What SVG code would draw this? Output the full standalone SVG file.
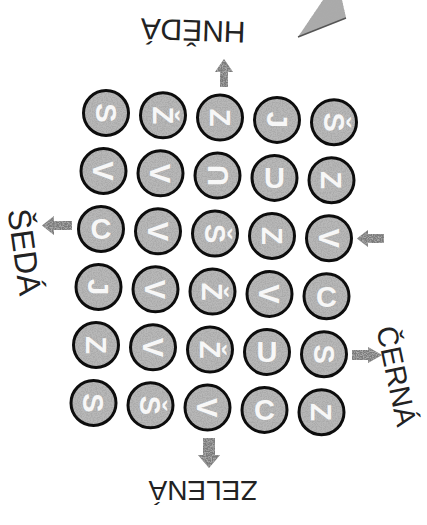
<svg xmlns="http://www.w3.org/2000/svg" width="427" height="525" viewBox="0 0 427 525">
<defs>
<filter id="grain" x="-10%" y="-10%" width="120%" height="120%">
<feTurbulence type="fractalNoise" baseFrequency="0.8" numOctaves="2" seed="5" result="noise"/>
<feColorMatrix in="noise" type="matrix" values="0 0 0 0 0.4  0 0 0 0 0.4  0 0 0 0 0.4  3.5 0 0 0 -1.4" result="dark"/>
<feComposite in="dark" in2="SourceGraphic" operator="in" result="spots"/>
<feMerge><feMergeNode in="SourceGraphic"/><feMergeNode in="spots"/></feMerge>
</filter>
</defs>
<style>
.disc{fill:#b8b8b8;filter:url(#grain)}
.ring{fill:none;stroke:#0d0d0d;stroke-width:3}
.let{font-family:"Liberation Sans",Arial,sans-serif;font-weight:bold;font-size:29px;fill:#f7f7f7;text-anchor:middle}
.lab{font-family:"Liberation Sans",Arial,sans-serif;fill:#222;text-anchor:middle}
.arr{fill:#7a7a7a;filter:url(#grain)}
</style>
<rect width="427" height="525" fill="#ffffff"/>

<g id="pencil-tip">
<polygon points="298,37 323,0 342,0 346,18" fill="#ababab" filter="url(#grain)"/>
<line x1="298" y1="37" x2="346" y2="18" stroke="#555" stroke-width="1.5"/>
</g>

<g id="connectors">
<polygon class="arr" points="224,59 233,72 228,72 228,87 220,87 220,72 215,72"/>
<polygon class="arr" points="42,225.5 54,216 54,221 72,221 72,230 54,230 54,235"/>
<polygon class="arr" points="357,238.5 368,230 368,234 384,234 384,243 368,243 368,247"/>
<polygon class="arr" points="382,355 368,363 368,360 352,360 352,350 368,350 368,347"/>
<polygon class="arr" points="203,438 215,438 215,455 220,455 209,468 198,455 203,455"/>
</g>

<g id="label-hneda"><text class="lab" font-size="30" transform="translate(193,31) rotate(182)" dy="0.36em">HNĚDÁ</text></g>
<g id="label-zelena"><text class="lab" font-size="28" transform="translate(203,491) rotate(180)" dy="0.36em">ZELENÁ</text></g>
<g id="label-seda"><text class="lab" font-size="32" transform="translate(25,252) rotate(82)" dy="0.36em">ŠEDÁ</text></g>
<g id="label-cerna"><text class="lab" font-size="29" transform="translate(397,376) rotate(78)" dy="0.36em">ČERNÁ</text></g>

<g id="r1c1"><circle class="disc" cx="106" cy="113" r="22.5"/><circle class="ring" cx="106" cy="113" r="22.5"/><text class="let" transform="translate(106,113) rotate(90)" dy="0.36em">S</text></g>
<g id="r1c2"><circle class="disc" cx="163" cy="115.3" r="22.5"/><circle class="ring" cx="163" cy="115.3" r="22.5"/><text class="let" transform="translate(163,115.3) rotate(90)" dy="0.36em">Ž</text></g>
<g id="r1c3"><circle class="disc" cx="220" cy="117.6" r="22.5"/><circle class="ring" cx="220" cy="117.6" r="22.5"/><text class="let" transform="translate(220,117.6) rotate(90)" dy="0.36em">Z</text></g>
<g id="r1c4"><circle class="disc" cx="277" cy="119.9" r="22.5"/><circle class="ring" cx="277" cy="119.9" r="22.5"/><text class="let" transform="translate(277,119.9) rotate(90)" dy="0.36em">J</text></g>
<g id="r1c5"><circle class="disc" cx="334" cy="122.2" r="22.5"/><circle class="ring" cx="334" cy="122.2" r="22.5"/><text class="let" transform="translate(334,122.2) rotate(90)" dy="0.36em">Š</text></g>

<g id="r2c1"><circle class="disc" cx="103.5" cy="171" r="22.5"/><circle class="ring" cx="103.5" cy="171" r="22.5"/><text class="let" transform="translate(103.5,171) rotate(90)" dy="0.36em">V</text></g>
<g id="r2c2"><circle class="disc" cx="160.5" cy="173.3" r="22.5"/><circle class="ring" cx="160.5" cy="173.3" r="22.5"/><text class="let" transform="translate(160.5,173.3) rotate(90)" dy="0.36em">V</text></g>
<g id="r2c3"><circle class="disc" cx="217.5" cy="175.6" r="22.5"/><circle class="ring" cx="217.5" cy="175.6" r="22.5"/><text class="let" transform="translate(217.5,175.6) rotate(-90)" dy="0.36em">U</text></g>
<g id="r2c4"><circle class="disc" cx="274.5" cy="177.9" r="22.5"/><circle class="ring" cx="274.5" cy="177.9" r="22.5"/><text class="let" transform="translate(274.5,177.9)" dy="0.36em">U</text></g>
<g id="r2c5"><circle class="disc" cx="331.5" cy="180.2" r="22.5"/><circle class="ring" cx="331.5" cy="180.2" r="22.5"/><text class="let" transform="translate(331.5,180.2) rotate(90)" dy="0.36em">Z</text></g>

<g id="r3c1"><circle class="disc" cx="101" cy="229" r="22.5"/><circle class="ring" cx="101" cy="229" r="22.5"/><text class="let" transform="translate(101,229)" dy="0.36em">C</text></g>
<g id="r3c2"><circle class="disc" cx="158" cy="231.3" r="22.5"/><circle class="ring" cx="158" cy="231.3" r="22.5"/><text class="let" transform="translate(158,231.3) rotate(90)" dy="0.36em">V</text></g>
<g id="r3c3"><circle class="disc" cx="215" cy="233.6" r="22.5"/><circle class="ring" cx="215" cy="233.6" r="22.5"/><text class="let" transform="translate(215,233.6) rotate(90)" dy="0.36em">Š</text></g>
<g id="r3c4"><circle class="disc" cx="272" cy="235.9" r="22.5"/><circle class="ring" cx="272" cy="235.9" r="22.5"/><text class="let" transform="translate(272,235.9) rotate(90)" dy="0.36em">Z</text></g>
<g id="r3c5"><circle class="disc" cx="329" cy="238.2" r="22.5"/><circle class="ring" cx="329" cy="238.2" r="22.5"/><text class="let" transform="translate(329,238.2) rotate(90)" dy="0.36em">V</text></g>

<g id="r4c1"><circle class="disc" cx="98.5" cy="287" r="22.5"/><circle class="ring" cx="98.5" cy="287" r="22.5"/><text class="let" transform="translate(98.5,287) rotate(90)" dy="0.36em">J</text></g>
<g id="r4c2"><circle class="disc" cx="155.5" cy="289.3" r="22.5"/><circle class="ring" cx="155.5" cy="289.3" r="22.5"/><text class="let" transform="translate(155.5,289.3) rotate(90)" dy="0.36em">V</text></g>
<g id="r4c3"><circle class="disc" cx="212.5" cy="291.6" r="22.5"/><circle class="ring" cx="212.5" cy="291.6" r="22.5"/><text class="let" transform="translate(212.5,291.6) rotate(90)" dy="0.36em">Ž</text></g>
<g id="r4c4"><circle class="disc" cx="269.5" cy="293.9" r="22.5"/><circle class="ring" cx="269.5" cy="293.9" r="22.5"/><text class="let" transform="translate(269.5,293.9) rotate(90)" dy="0.36em">V</text></g>
<g id="r4c5"><circle class="disc" cx="326.5" cy="296.2" r="22.5"/><circle class="ring" cx="326.5" cy="296.2" r="22.5"/><text class="let" transform="translate(326.5,296.2)" dy="0.36em">C</text></g>

<g id="r5c1"><circle class="disc" cx="96" cy="345" r="22.5"/><circle class="ring" cx="96" cy="345" r="22.5"/><text class="let" transform="translate(96,345) rotate(90)" dy="0.36em">Z</text></g>
<g id="r5c2"><circle class="disc" cx="153" cy="347.3" r="22.5"/><circle class="ring" cx="153" cy="347.3" r="22.5"/><text class="let" transform="translate(153,347.3) rotate(90)" dy="0.36em">V</text></g>
<g id="r5c3"><circle class="disc" cx="210" cy="349.6" r="22.5"/><circle class="ring" cx="210" cy="349.6" r="22.5"/><text class="let" transform="translate(210,349.6) rotate(90)" dy="0.36em">Ž</text></g>
<g id="r5c4"><circle class="disc" cx="267" cy="351.9" r="22.5"/><circle class="ring" cx="267" cy="351.9" r="22.5"/><text class="let" transform="translate(267,351.9)" dy="0.36em">U</text></g>
<g id="r5c5"><circle class="disc" cx="324" cy="354.2" r="22.5"/><circle class="ring" cx="324" cy="354.2" r="22.5"/><text class="let" transform="translate(324,354.2) rotate(90)" dy="0.36em">S</text></g>

<g id="r6c1"><circle class="disc" cx="93.5" cy="403" r="22.5"/><circle class="ring" cx="93.5" cy="403" r="22.5"/><text class="let" transform="translate(93.5,403) rotate(90)" dy="0.36em">S</text></g>
<g id="r6c2"><circle class="disc" cx="150.5" cy="405.3" r="22.5"/><circle class="ring" cx="150.5" cy="405.3" r="22.5"/><text class="let" transform="translate(150.5,405.3) rotate(90)" dy="0.36em">Š</text></g>
<g id="r6c3"><circle class="disc" cx="207.5" cy="407.6" r="22.5"/><circle class="ring" cx="207.5" cy="407.6" r="22.5"/><text class="let" transform="translate(207.5,407.6) rotate(90)" dy="0.36em">V</text></g>
<g id="r6c4"><circle class="disc" cx="264.5" cy="409.9" r="22.5"/><circle class="ring" cx="264.5" cy="409.9" r="22.5"/><text class="let" transform="translate(264.5,409.9)" dy="0.36em">C</text></g>
<g id="r6c5"><circle class="disc" cx="321.5" cy="412.2" r="22.5"/><circle class="ring" cx="321.5" cy="412.2" r="22.5"/><text class="let" transform="translate(321.5,412.2) rotate(90)" dy="0.36em">Z</text></g>
</svg>
